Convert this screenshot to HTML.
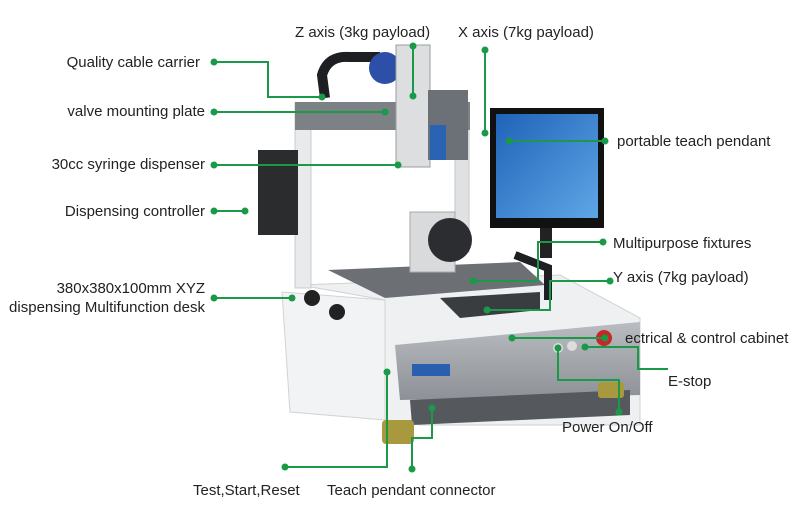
<!DOCTYPE html>
<html><head><meta charset="utf-8"><style>
html,body{margin:0;padding:0;background:#fff;}
svg{display:block;}
text{font-family:"Liberation Sans",Arial,sans-serif;font-size:15px;fill:#222;}
</style></head><body>
<svg width="800" height="513" viewBox="0 0 800 513" xmlns="http://www.w3.org/2000/svg">
<defs>
<linearGradient id="pan" x1="0" y1="0" x2="0" y2="1"><stop offset="0" stop-color="#b9bcc0"/><stop offset="1" stop-color="#8d9096"/></linearGradient>
<linearGradient id="scr" x1="0" y1="0" x2="1" y2="1"><stop offset="0" stop-color="#1f63b8"/><stop offset="1" stop-color="#5fa6e6"/></linearGradient>
</defs>
<!-- machine -->
<polygon points="300,285 560,275 640,318 640,425 420,425 385,420 385,300" fill="#eef0f1" stroke="#cfd2d5"/>
<polygon points="282,292 385,300 385,420 290,412" fill="#f2f3f4" stroke="#d0d3d6"/>
<polygon points="395,345 640,322 640,395 400,400" fill="url(#pan)"/>
<polygon points="410,400 630,390 630,415 412,425" fill="#55585c"/>
<rect x="412" y="364" width="38" height="12" fill="#2a5fb0"/>
<!-- feet -->
<rect x="382" y="420" width="32" height="24" fill="#a8983e" rx="4"/>
<rect x="598" y="382" width="26" height="16" fill="#a8983e" rx="3"/>
<!-- table -->
<polygon points="328,270 520,262 545,285 385,298" fill="#6c7074"/>
<polygon points="440,298 540,292 540,310 460,318" fill="#3a3d40"/>
<!-- uprights -->
<rect x="295" y="103" width="16" height="185" fill="#e9eaeb" stroke="#c8cbce"/>
<rect x="455" y="112" width="14" height="140" fill="#dfe1e2" stroke="#c4c7ca"/>
<rect x="295" y="102" width="175" height="28" fill="#7c8186"/>
<!-- cable carrier -->
<path d="M325,98 L322,75 Q328,55 350,57 L380,57" stroke="#1d1f22" stroke-width="10" fill="none"/>
<!-- z axis head -->
<circle cx="385" cy="68" r="16" fill="#2d4fa8"/>
<rect x="396" y="45" width="34" height="122" fill="#dcdee0" stroke="#9a9ea2"/>
<rect x="428" y="90" width="40" height="70" fill="#6b7176"/>
<rect x="430" y="125" width="16" height="35" fill="#2a62b4"/>
<!-- fixture -->
<rect x="410" y="212" width="45" height="60" fill="#d8dadc" stroke="#aaa"/>
<circle cx="450" cy="240" r="22" fill="#2b2d30"/>
<path d="M515,255 L548,268 L548,300" stroke="#1d1f22" stroke-width="8" fill="none"/>
<!-- controller -->
<rect x="258" y="150" width="40" height="85" fill="#2a2c2e"/>
<!-- monitor -->
<rect x="490" y="108" width="114" height="120" fill="#111"/>
<rect x="496" y="114" width="102" height="104" fill="url(#scr)"/>
<rect x="540" y="228" width="12" height="30" fill="#222"/>
<!-- knobs -->
<circle cx="312" cy="298" r="8" fill="#222"/>
<circle cx="337" cy="312" r="8" fill="#222"/>
<circle cx="558" cy="348" r="5" fill="#ddd"/><circle cx="572" cy="346" r="5" fill="#ddd"/>
<circle cx="604" cy="338" r="8" fill="#c62828"/>

<!-- connectors -->
<g stroke="#1a9a48" stroke-width="2" fill="none">
<polyline points="214,62 268,62 268,97 322,97"/>
<line x1="214" y1="112" x2="385" y2="112"/>
<line x1="214" y1="165" x2="398" y2="165"/>
<line x1="214" y1="211" x2="245" y2="211"/>
<line x1="214" y1="298" x2="292" y2="298"/>
<line x1="413" y1="46" x2="413" y2="96"/>
<line x1="485" y1="50" x2="485" y2="133"/>
<line x1="509" y1="141" x2="605" y2="141"/>
<polyline points="603,242 538,242 538,281 473,281"/>
<polyline points="610,281 550,281 550,310 487,310"/>
<line x1="512" y1="338" x2="605" y2="338"/>
<polyline points="668,369 638,369 638,347 585,347"/>
<polyline points="619,412 619,380 558,380 558,348"/>
<polyline points="285,467 387,467 387,372"/>
<polyline points="412,469 412,438 432,438 432,408"/>
</g>
<g fill="#1a9a48">
<circle cx="214" cy="62" r="3.5"/><circle cx="322" cy="97" r="3.5"/>
<circle cx="214" cy="112" r="3.5"/><circle cx="385" cy="112" r="3.5"/>
<circle cx="214" cy="165" r="3.5"/><circle cx="398" cy="165" r="3.5"/>
<circle cx="214" cy="211" r="3.5"/><circle cx="245" cy="211" r="3.5"/>
<circle cx="214" cy="298" r="3.5"/><circle cx="292" cy="298" r="3.5"/>
<circle cx="413" cy="46" r="3.5"/><circle cx="413" cy="96" r="3.5"/>
<circle cx="485" cy="50" r="3.5"/><circle cx="485" cy="133" r="3.5"/>
<circle cx="509" cy="141" r="3.5"/><circle cx="605" cy="141" r="3.5"/>
<circle cx="603" cy="242" r="3.5"/><circle cx="473" cy="281" r="3.5"/>
<circle cx="610" cy="281" r="3.5"/><circle cx="487" cy="310" r="3.5"/>
<circle cx="512" cy="338" r="3.5"/><circle cx="605" cy="338" r="3.5"/>
<circle cx="585" cy="347" r="3.5"/>
<circle cx="619" cy="412" r="3.5"/><circle cx="558" cy="348" r="3.5"/>
<circle cx="285" cy="467" r="3.5"/><circle cx="387" cy="372" r="3.5"/>
<circle cx="412" cy="469" r="3.5"/><circle cx="432" cy="408" r="3.5"/>
</g>

<!-- labels -->
<text x="295" y="37">Z axis (3kg payload)</text>
<text x="458" y="37">X axis  (7kg payload)</text>
<g text-anchor="end">
<text x="200" y="67">Quality cable carrier</text>
<text x="205" y="116">valve mounting plate</text>
<text x="205" y="169">30cc syringe dispenser</text>
<text x="205" y="216">Dispensing controller</text>
<text x="205" y="293">380x380x100mm XYZ</text>
<text x="205" y="312">dispensing Multifunction desk</text>
</g>
<text x="617" y="146">portable teach pendant</text>
<text x="613" y="248">Multipurpose fixtures</text>
<text x="613" y="282">Y axis (7kg payload)</text>
<text x="625" y="343">ectrical &amp; control cabinet</text>
<text x="668" y="386">E-stop</text>
<text x="562" y="432">Power On/Off</text>
<text x="193" y="495">Test,Start,Reset</text>
<text x="327" y="495">Teach pendant connector</text>
</svg>
</body></html>
